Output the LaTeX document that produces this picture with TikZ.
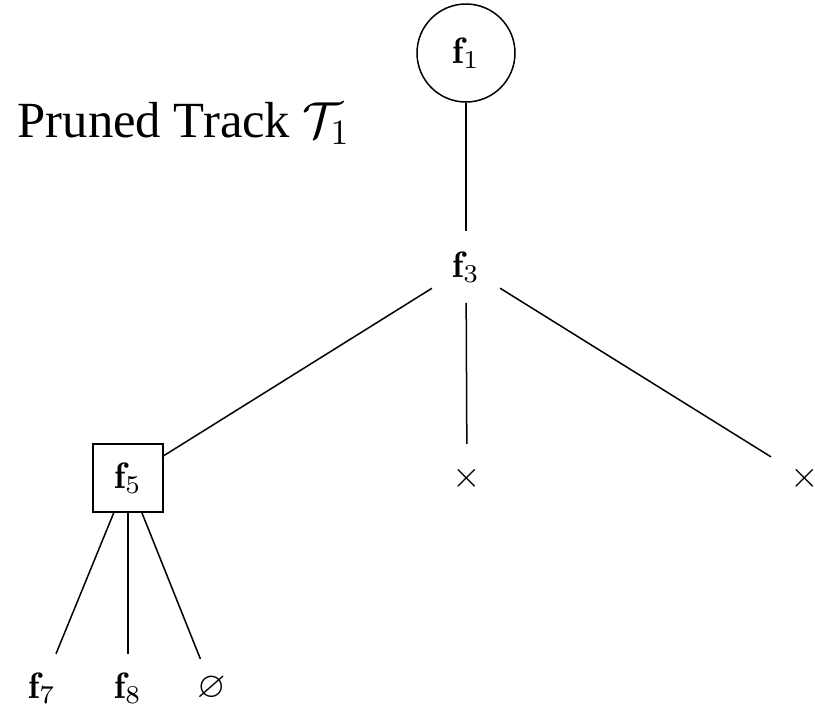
\RequirePackage{fix-cm}
\documentclass[tikz,border=0pt]{standalone}
\usepackage{amssymb}
\usepackage{fontspec}
\newfontfamily\timesfont{Liberation Serif}
\begin{document}
\begin{tikzpicture}[x=0.3pt,y=-0.3pt,
  every node/.style={font=\fontsize{11}{13}\selectfont},
  line width=0.45pt,
  leaf/.style={rectangle, inner sep=0pt, minimum width=20pt, minimum height=20pt},
  hub/.style={rectangle, inner sep=0pt, minimum width=20pt, minimum height=21pt},
  framed/.style={rectangle, draw, inner sep=0pt, minimum width=21pt, minimum height=20.4pt},
  root/.style={circle, draw, inner sep=0pt, minimum size=29.4pt},
  small/.style={rectangle, inner sep=0pt, minimum width=20pt, minimum height=17pt}]
\useasboundingbox (0,0) rectangle (815,709);
\node[anchor=base west, inner sep=0pt, font=\timesfont\fontsize{15.2}{18}\selectfont] (title) at (17,137) {Pruned Track $\mathcal{T}_1$};
\node[root] (f1) at (466,53) {$\mathbf{f}_1$};
\node[hub] (f3) at (466,267) {$\mathbf{f}_3$};
\node[framed] (f5) at (128,478) {$\mathbf{f}_5$};
\node[leaf] (x1) at (467,478) {$\times$};
\node[leaf] (x2) at (805,478) {$\times$};
\node[leaf] (f7) at (42,688) {$\mathbf{f}_7$};
\node[leaf] (f8) at (128,688) {$\mathbf{f}_8$};
\node[small] (e) at (212,688) {$\varnothing$};
\draw (f1) -- (f3);
\draw (f3) -- (f5);
\draw (f3) -- (x1);
\draw (f3) -- (x2);
\draw (f5) -- (f7);
\draw (f5) -- (f8);
\draw (f5) -- (e);
\end{tikzpicture}
\end{document}
